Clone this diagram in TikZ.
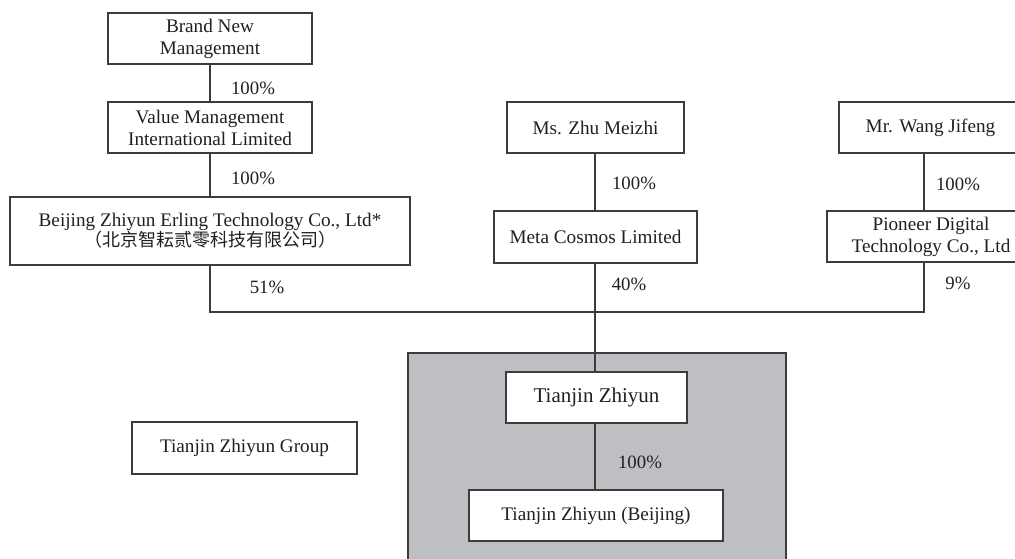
\documentclass[tikz,border=0pt]{standalone}
\usepackage{fontspec}
\setmainfont{Liberation Serif}
\newfontfamily\cjk{Noto Sans CJK SC}
\usepackage{tikz}
\definecolor{ink}{RGB}{35,31,32}
\definecolor{rule}{RGB}{60,60,60}
\definecolor{shade}{RGB}{190,191,195}

\begin{document}
\begin{tikzpicture}[x=0.5pt,y=-0.5pt,
	entity/.style={draw=rule,line width=0.6pt,fill=white,text=ink,align=center,inner sep=1pt,
		minimum height=25.5pt,font=\fontsize{9.6}{11}\selectfont},
	pct/.style={text=ink,inner sep=0pt,font=\fontsize{9.4}{11}\selectfont},
	link/.style={draw=rule,line width=0.6pt}]
				\useasboundingbox (0,0) rectangle (1015,558);
				\clip (0,0) rectangle (1015,558);
				
				\coordinate (jl) at (210,312);%51
				\coordinate (jm) at (595,312);%40
				\coordinate (jr) at (924,312);%9
				
				\filldraw[draw=rule,line width=0.6pt,fill=shade] (408,353) rectangle (786,600);
				
				\node[entity,minimum width=102pt] (brand) at (210,38.5) {Brand New\\Management};
				\node[entity,minimum width=102pt] (value) at (210,127.5) {Value Management\\International Limited};
				\node[entity,minimum width=200pt,minimum height=34pt] (beijing) at (210,231) {Beijing Zhiyun Erling Technology Co., Ltd*\\[-1pt]{\cjk\fontsize{9}{10}\selectfont （北京智耘贰零科技有限公司）}};
				\node[entity,minimum width=88.5pt] (zhu) at (595.5,127.5) {Ms. Zhu Meizhi};
				\node[entity,minimum width=101.5pt,minimum height=26pt] (meta) at (595.5,237) {Meta Cosmos Limited};
				\node[entity,minimum width=91.5pt] (wang) at (930.5,127.5) {Mr. Wang Jifeng};
				\node[entity,minimum width=104pt] (pioneer) at (931,236.5) {Pioneer Digital\\Technology Co., Ltd};
				\node[entity,minimum width=112.5pt,minimum height=26pt] (group) at (244.5,448) {Tianjin Zhiyun Group};
				\node[entity,minimum width=90.5pt,font=\fontsize{10.5}{12}\selectfont] (tz) at (596.5,397.5) {Tianjin Zhiyun};
				\node[entity,minimum width=127pt] (tzb) at (596,515.5) {Tianjin Zhiyun (Beijing)};
				
				\draw[link] (brand) -- (value);
				\draw[link] (value) -- (beijing);
				\draw[link] (zhu.south -| jm) -- (meta.north -| jm);
				\draw[link] (wang.south -| jr) -- (pioneer.north -| jr);
				\draw[link] (beijing.south) -- (jl) -- (jr) -- (pioneer.south -| jr);
				\draw[link] (meta.south -| jm) -- (tz.north -| jm);
				\draw[link] (tz.south -| jm) -- (tzb.north -| jm);
				
				\node[pct] (p1) at (253,88) {100\%};
				\node[pct] (p2) at (253,178) {100\%};
				\node[pct] (p3) at (267,287) {51\%};
				\node[pct] (p4) at (634,183) {100\%};
				\node[pct] (p5) at (629,284) {40\%};
				\node[pct] (p6) at (958,184) {100\%};
				\node[pct] (p7) at (958,283) {9\%};
				\node[pct] (p8) at (640,462) {100\%};
			\end{tikzpicture}
\end{document}
